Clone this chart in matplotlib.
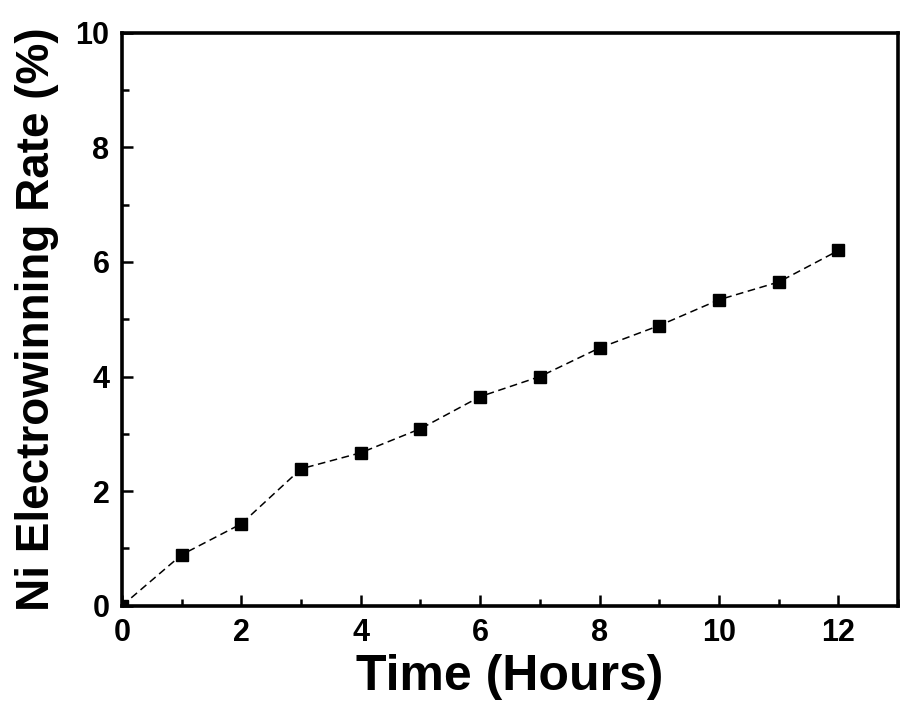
import numpy as np
import matplotlib.pyplot as plt
from matplotlib.ticker import MultipleLocator

hours = [0, 1, 2, 3, 4, 5, 6, 7, 8, 9, 10, 11, 12]
rate = [0, 0.89, 1.43, 2.39, 2.67, 3.09, 3.65, 4.0, 4.5, 4.89, 5.34, 5.65, 6.2]

plt.rcParams['font.family'] = ['Liberation Sans', 'DejaVu Sans']
plt.rcParams['font.weight'] = 'bold'

fig = plt.figure(figsize=(9.1, 7.11), dpi=100)
ax = fig.add_axes([0.134, 0.148, 0.853, 0.806])
ax.plot(hours, rate, ls=(0, (5, 3)), lw=1.1, c='black',
        marker='s', ms=9, mfc='black', mec='black')
ax.set_xlim(0, 13)
ax.set_ylim(0, 10)
ax.xaxis.set_major_locator(MultipleLocator(2))
ax.xaxis.set_minor_locator(MultipleLocator(1))
ax.yaxis.set_major_locator(MultipleLocator(2))
ax.yaxis.set_minor_locator(MultipleLocator(1))
ax.tick_params(which='both', direction='in', width=1.8, labelsize=22, pad=9)
ax.tick_params(which='major', length=8)
ax.tick_params(which='minor', length=5)
for s in ax.spines.values():
    s.set_linewidth(2.6)
ax.set_xlabel('Time (Hours)', fontsize=36, fontweight='bold', labelpad=4)
ax.set_ylabel('Ni Electrowinning Rate (%)', fontsize=33, fontweight='bold', labelpad=12)
fig.savefig('out.png', dpi=100)
